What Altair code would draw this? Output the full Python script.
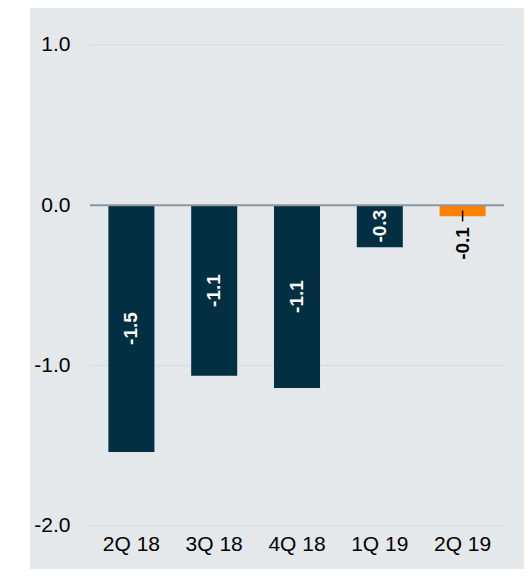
import altair as alt
import pandas as pd

quarters = ["2Q 18", "3Q 18", "4Q 18", "1Q 19", "2Q 19"]
values = [-1.54, -1.065, -1.14, -0.262, -0.069]
labels = ["-1.5", "-1.1", "-1.1", "-0.3", "-0.1"]
highlight = [False, False, False, False, True]
y_ticks = [1.0, 0.0, -1.0, -2.0]
grid_vals = [1.0, -1.0, -2.0]

df = pd.DataFrame({"q": quarters, "v": values, "lab": labels, "hl": highlight})
grid_df = pd.DataFrame({"g": grid_vals})
zero_df = pd.DataFrame({"g": [0.0]})

NAVY = "#022f42"
ORANGE = "#ff8200"
BG = "#e5e8eb"

yscale = alt.Scale(domain=[-2.27, 1.23], nice=False, zero=False)
xscale = alt.Scale(domain=quarters, range=[60, 474], paddingInner=0.444, paddingOuter=0.222)

grid = alt.Chart(grid_df).mark_rule(color="#d8dde1", strokeWidth=1.5).encode(
    y=alt.Y("g:Q", scale=yscale), x=alt.value(60), x2=alt.value(474)
)

bars = alt.Chart(df).mark_bar().encode(
    x=alt.X("q:N", scale=xscale, sort=quarters,
            axis=alt.Axis(title=None, ticks=False, domain=False, labelAngle=0,
                          labelFontSize=21, labelFont="Liberation Sans", labelColor="#000000",
                          labelPadding=0, offset=-36, labelBaseline="top")),
    y=alt.Y("v:Q", scale=yscale,
            axis=alt.Axis(title=None, values=y_ticks, grid=False, ticks=False,
                          labelExpr="datum.value < 0 ? '-' + format(-datum.value, '.1f') : format(datum.value, '.1f')",
                          domain=False, labelFontSize=21, labelFont="Liberation Sans",
                          labelColor="#000000", labelPadding=0, offset=-40)),
    y2=alt.datum(0),
    color=alt.condition("datum.hl", alt.value(ORANGE), alt.value(NAVY)),
)

zero = alt.Chart(zero_df).mark_rule(color="#8c969e", strokeWidth=2).encode(
    y=alt.Y("g:Q", scale=yscale), x=alt.value(60), x2=alt.value(474)
)

inside = alt.Chart(df).transform_filter("!datum.hl").transform_calculate(
    mid="datum.v / 2"
).mark_text(angle=270, color="white", fontWeight="bold", fontSize=19,
            font="Liberation Sans", align="center", baseline="middle").encode(
    x=alt.X("q:N", scale=xscale, sort=quarters),
    y=alt.Y("mid:Q", scale=yscale),
    text="lab:N",
)

outside = alt.Chart(df).transform_filter("datum.hl").transform_calculate(
    pos="datum.v - 0.17"
).mark_text(angle=270, color="black", fontWeight="bold", fontSize=19,
            font="Liberation Sans", align="center", baseline="middle").encode(
    x=alt.X("q:N", scale=xscale, sort=quarters),
    y=alt.Y("pos:Q", scale=yscale),
    text="lab:N",
)

leader = alt.Chart(df).transform_filter("datum.hl").transform_calculate(
    a="datum.v + 0.035", b="datum.v - 0.032"
).mark_rule(color="black", strokeWidth=1.5).encode(
    x=alt.X("q:N", scale=xscale, sort=quarters),
    y=alt.Y("a:Q", scale=yscale),
    y2="b:Q",
)

chart = alt.layer(grid, bars, zero, inside, leader, outside).properties(
    width=494, height=561,
    autosize=alt.AutoSizeParams(type="none"),
    padding={"left": 22, "top": 0, "right": 0, "bottom": 0},
    background="white",
).configure_view(fill=BG, stroke=None)

chart.save("out.html", embed_options={"renderer": "svg", "actions": False})
